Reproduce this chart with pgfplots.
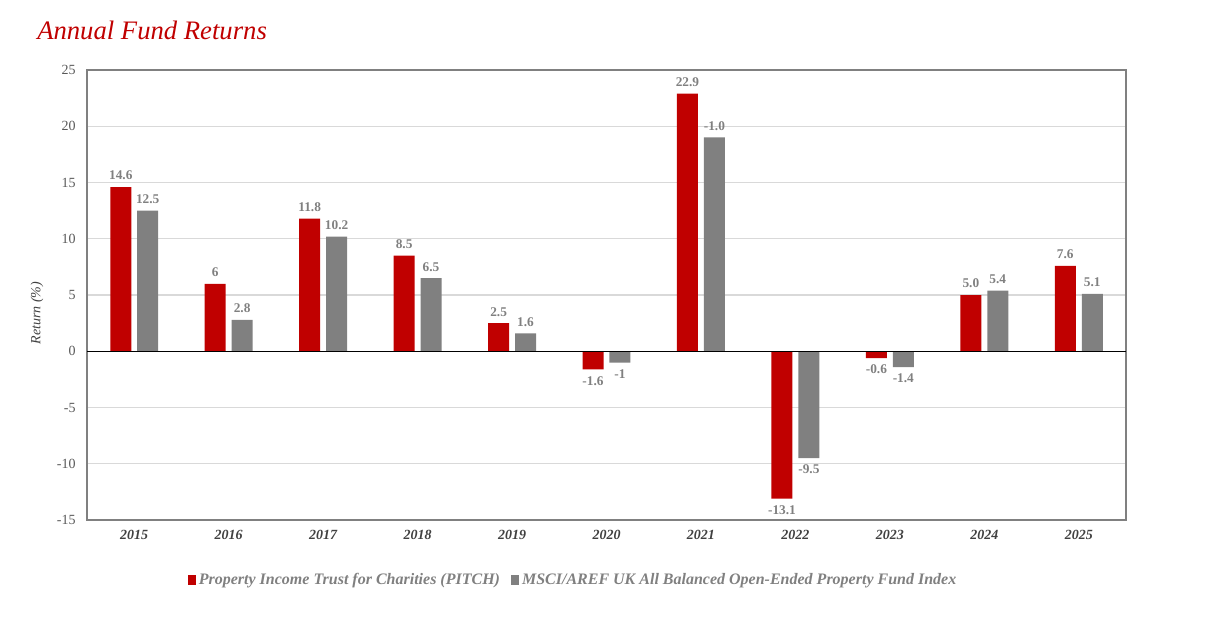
\documentclass[border=0pt]{standalone}
\usepackage{pgfplots}
\pgfplotsset{compat=1.18}
\usepackage{fontspec}
\setmainfont{Liberation Serif}
\definecolor{pitch}{HTML}{C00000}
\definecolor{msci}{HTML}{808080}
\definecolor{ticktxt}{HTML}{595959}
\definecolor{labtxt}{HTML}{404040}
\definecolor{gridc}{HTML}{D9D9D9}
\begin{document}
\begin{tikzpicture}
\useasboundingbox (0pt,0pt) rectangle (906.75pt,466.5pt);
\node[anchor=base west, text=pitch, font=\fontsize{20}{24}\selectfont\itshape, inner sep=0pt] at (27.75pt,436.5pt) {Annual Fund Returns};
\begin{axis}[
  at={(65.25pt,76.5pt)}, anchor=south west,
  width=779.25pt, height=337.5pt, scale only axis,
  xmin=-0.5, xmax=10.5, ymin=-15, ymax=25,
  ytick={-15,-10,...,25},
  xtick={0,...,10},
  xticklabels={2015,2016,2017,2018,2019,2020,2021,2022,2023,2024,2025},
  xticklabel style={font=\fontsize{10.5}{12}\selectfont\bfseries\itshape, text=labtxt, yshift=-4pt},
  yticklabel style={font=\fontsize{10.5}{12}\selectfont, text=ticktxt, xshift=-5pt},
  /pgf/number format/assume math mode=true,
  major tick length=0pt,
  axis line style={draw=msci, line width=0.9pt},
  ymajorgrids, grid style={gridc, line width=0.8pt},
  ylabel={Return (\%)},
  ylabel style={font=\fontsize{10.5}{12}\selectfont\itshape, text=labtxt, at={(axis description cs:-0.048,0.46)}, anchor=center, rotate=0},
  ybar, bar width=15.75pt,
  every node near coord/.append style={font=\fontsize{10}{12}\selectfont\bfseries, text=msci, inner sep=5pt},
  legend style={at={(0.468,-0.133)}, anchor=center, draw=none, fill=none, legend columns=2,
    font=\fontsize{12}{14}\selectfont\bfseries\itshape, text=msci,
    /tikz/every even column/.append style={column sep=6pt}},
  legend image code/.code={\fill[#1] (0pt,-3.5pt) rectangle (6.5pt,3.5pt);},
  clip=false,
]
% bars
\addplot[fill=pitch, draw=none, bar shift=-10.1pt] coordinates {
 (0,14.6) (1,6) (2,11.8) (3,8.5) (4,2.5) (5,-1.6) (6,22.9) (7,-13.1) (8,-0.6) (9,5.0) (10,7.6)};
\addlegendentry{Property Income Trust for Charities (PITCH)}
\addplot[fill=msci, draw=none, bar shift=10.1pt] coordinates {
 (0,12.5) (1,2.8) (2,10.2) (3,6.5) (4,1.6) (5,-1) (6,19.0) (7,-9.5) (8,-1.4) (9,5.4) (10,5.1)};
\addlegendentry{MSCI/AREF UK All Balanced Open-Ended Property Fund Index}
% labels, positive values (above)
\addplot[forget plot, draw=none, fill=none, bar shift=-10.1pt, point meta=explicit symbolic,
  nodes near coords, every node near coord/.append style={anchor=south}] coordinates {
 (0,14.6)[14.6] (1,6)[6] (2,11.8)[11.8] (3,8.5)[8.5] (4,2.5)[2.5] (6,22.9)[22.9] (9,5.0)[5.0] (10,7.6)[7.6]};
\addplot[forget plot, draw=none, fill=none, bar shift=10.1pt, point meta=explicit symbolic,
  nodes near coords, every node near coord/.append style={anchor=south}] coordinates {
 (0,12.5)[12.5] (1,2.8)[2.8] (2,10.2)[10.2] (3,6.5)[6.5] (4,1.6)[1.6] (6,19.0)[-1.0] (9,5.4)[5.4] (10,5.1)[5.1]};
% labels, negative values (below)
\addplot[forget plot, draw=none, fill=none, bar shift=-10.1pt, point meta=explicit symbolic,
  nodes near coords, every node near coord/.append style={anchor=north}] coordinates {
 (5,-1.6)[-1.6] (7,-13.1)[-13.1] (8,-0.6)[-0.6]};
\addplot[forget plot, draw=none, fill=none, bar shift=10.1pt, point meta=explicit symbolic,
  nodes near coords, every node near coord/.append style={anchor=north}] coordinates {
 (5,-1)[-1] (7,-9.5)[-9.5] (8,-1.4)[-1.4]};
\draw[black, line width=0.9pt] (axis cs:-0.5,0) -- (axis cs:10.5,0);
\end{axis}
\end{tikzpicture}
\end{document}
